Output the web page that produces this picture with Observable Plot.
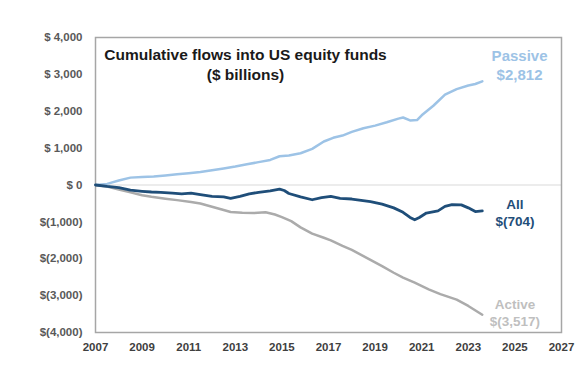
<!DOCTYPE html>
<html>
<head>
<meta charset="utf-8">
<script src="https://cdn.jsdelivr.net/npm/d3@7"></script>
<script src="https://cdn.jsdelivr.net/npm/@observablehq/plot@0.6"></script>
<style>
  html, body { margin: 0; padding: 0; background: #fff; }
  #chart svg { display: block; }
  g[aria-label="y-axis tick label"] text, g[aria-label="x-axis tick label"] text { font-weight: bold; }
</style>
</head>
<body>
<div id="chart"></div>
<script>
// ---- Data ($ billions) ----
const passiveYears = [2007.0,2007.5,2008.0,2008.5,2009.0,2009.5,2010.0,2010.5,2011.0,2011.5,2012.0,2012.5,2013.0,2013.5,2014.0,2014.5,2014.9,2015.3,2015.8,2016.3,2016.8,2017.2,2017.6,2018.0,2018.5,2019.0,2019.5,2020.0,2020.2,2020.5,2020.8,2021.0,2021.5,2022.0,2022.5,2023.0,2023.3,2023.6];
const passiveValues = [0,30,120,200,215,230,260,290,320,350,400,450,500,560,620,680,780,800,860,980,1180,1280,1340,1440,1540,1610,1700,1800,1830,1750,1760,1890,2150,2450,2600,2700,2740,2812];

const allYears = [2007.0,2007.5,2008.0,2008.5,2009.0,2009.4,2009.8,2010.3,2010.7,2011.1,2011.5,2012.0,2012.5,2012.8,2013.2,2013.6,2014.0,2014.5,2014.9,2015.1,2015.3,2015.8,2016.3,2016.7,2017.1,2017.5,2018.0,2018.8,2019.3,2019.8,2020.2,2020.5,2020.7,2020.9,2021.2,2021.7,2022.0,2022.3,2022.7,2023.0,2023.3,2023.6];
const allValues = [0,-40,-70,-140,-170,-190,-200,-220,-240,-220,-260,-310,-320,-360,-310,-240,-200,-160,-110,-150,-230,-320,-400,-340,-310,-360,-380,-450,-520,-620,-740,-880,-945,-880,-760,-700,-580,-530,-540,-620,-720,-704];

const activeYears = [2007.0,2007.5,2008.0,2008.5,2009.0,2009.4,2010.0,2010.5,2011.1,2011.5,2012.0,2012.5,2012.8,2013.3,2013.8,2014.3,2014.7,2015.0,2015.4,2015.8,2016.3,2016.8,2017.1,2017.6,2018.0,2018.8,2019.3,2019.8,2020.2,2020.7,2021.3,2021.8,2022.5,2023.0,2023.6];
const activeValues = [0,-40,-120,-200,-280,-320,-370,-410,-460,-500,-590,-680,-730,-750,-760,-740,-800,-870,-980,-1150,-1320,-1430,-1500,-1650,-1760,-2030,-2200,-2380,-2510,-2650,-2830,-2960,-3110,-3280,-3517];

const seriesNames = ["Passive", "All", "Active"];
const seriesLabels = ["Passive\n$2,812", "All\n$(704)", "Active\n$(3,517)"];
const labelYears = [2025.2, 2025, 2025];
const yTicks = [4000, 3000, 2000, 1000, 0, -1000, -2000, -3000, -4000];
const xTicks = [2007, 2009, 2011, 2013, 2015, 2017, 2019, 2021, 2023, 2025, 2027];
const titleLines = ["Cumulative flows into US equity funds", "($ billions)"];

// ---- Build tables ----
const toRows = (name, ys, vs) => ys.map((y, i) => ({series: name, year: y, value: vs[i]}));
const passive = toRows("Passive", passiveYears, passiveValues);
const all = toRows("All", allYears, allValues);
const active = toRows("Active", activeYears, activeValues);
const lastOf = arr => arr[arr.length - 1];
const labels = [
  {series: "Passive", text: seriesLabels[0], year: labelYears[0], value: lastOf(passive).value, dy: -17, fill: "#9dc3e6", size: 15},
  {series: "All", text: seriesLabels[1], year: labelYears[1], value: lastOf(all).value, dy: 1, fill: "#1f4e79", size: 13.5},
  {series: "Active", text: seriesLabels[2], year: labelYears[2], value: lastOf(active).value, dy: -3, fill: "#bfbfbf", size: 13.5}
];

const fmt = d3.format(",");
const yFormat = d => d === 0 ? "$ 0" : d > 0 ? "$ " + fmt(d) : "$(" + fmt(-d) + ")";

const font = "'Liberation Sans', Arial, Helvetica, sans-serif";

const chart = Plot.plot({
  width: 588,
  height: 388,
  marginLeft: 95,
  marginRight: 27,
  marginTop: 37,
  marginBottom: 56,
  style: {fontFamily: font, background: "#fff", overflow: "visible"},
  x: {domain: [2007, 2027]},
  y: {domain: [-4000, 4000]},
  marks: [
    Plot.ruleY([0], {stroke: "#d9d9d9", strokeWidth: 1}),
    Plot.frame({stroke: "#a6a6a6", strokeWidth: 1.5}),
    Plot.axisY(yTicks, {tickSize: 0, tickPadding: 13, tickFormat: yFormat, fontSize: 11.5, fill: "#595959", label: null}),
    Plot.axisX(xTicks, {tickSize: 0, tickPadding: 10, tickFormat: d => String(d), fontSize: 11.5, fill: "#404040", label: null}),
    Plot.line(passive, {x: "year", y: "value", stroke: "#9dc3e6", strokeWidth: 2.5, curve: "linear"}),
    Plot.line(active, {x: "year", y: "value", stroke: "#ababab", strokeWidth: 2.5, curve: "linear"}),
    Plot.line(all, {x: "year", y: "value", stroke: "#1f4e79", strokeWidth: 2.8, curve: "linear"}),
    ...labels.map(l => Plot.text([l], {x: "year", y: "value", text: "text", dy: l.dy, fill: l.fill, fontSize: l.size, fontWeight: "bold", lineHeight: 1.25, textAnchor: "middle"})),
    Plot.text([titleLines[0]], {frameAnchor: "top-left", dx: 150, dy: 18, textAnchor: "middle", lineAnchor: "middle", fontSize: 15.5, fontWeight: "bold", fill: "#1a1a1a"}),
    Plot.text([titleLines[1]], {frameAnchor: "top-left", dx: 150, dy: 38, textAnchor: "middle", lineAnchor: "middle", fontSize: 15.5, fontWeight: "bold", fill: "#1a1a1a"})
  ]
});
document.getElementById("chart").appendChild(chart);
</script>
</body>
</html>
